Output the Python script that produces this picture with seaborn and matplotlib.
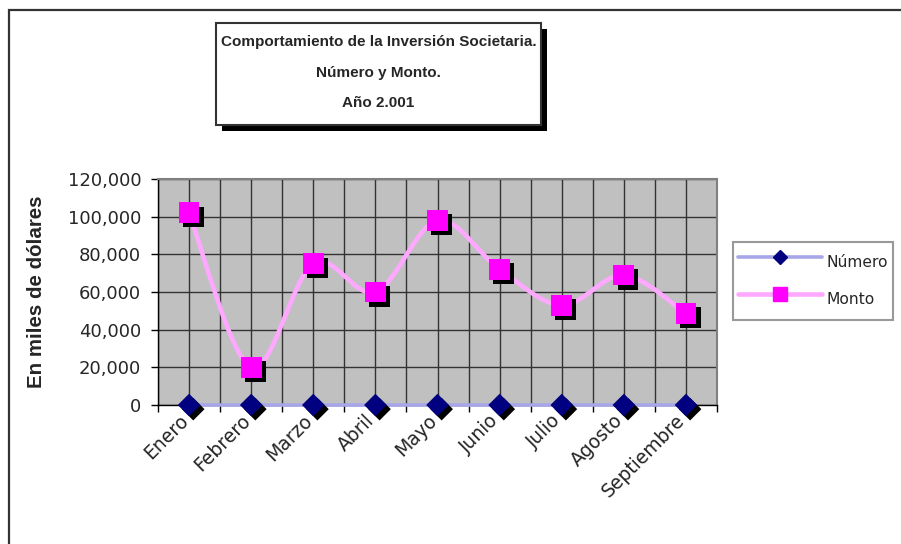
import numpy as np
import pandas as pd
import matplotlib
matplotlib.use("Agg")
import matplotlib.pyplot as plt
import matplotlib.patheffects as pe
from matplotlib.patches import Rectangle, PathPatch
from matplotlib.path import Path
from matplotlib.lines import Line2D
from matplotlib.ticker import FuncFormatter
import seaborn as sns

# ---- data ----
meses = ["Enero", "Febrero", "Marzo", "Abril", "Mayo", "Junio", "Julio", "Agosto", "Septiembre"]
numero = [0, 0, 0, 0, 0, 0, 0, 0, 0]
monto = [102000, 20000, 75000, 60000, 98000, 72000, 53000, 69000, 48500]
y_ticks = [0, 20000, 40000, 60000, 80000, 100000, 120000]
title_lines = ["Comportamiento de la Inversión Societaria.", "Número y Monto.", "Año 2.001"]
y_label = "En miles de dólares"
series_names = ["Número", "Monto"]

sns.set_style("white")
plt.rcParams["font.family"] = ["Liberation Sans", "DejaVu Sans"]
TICKFONT = ["DejaVu Sans"]

W, H = 901, 544
fig = plt.figure(figsize=(W / 100, H / 100), dpi=100)
fig.patch.set_facecolor("white")


def fx(px):
    return px / W


def fy(py):
    return 1 - py / H


ax = fig.add_axes([fx(158), fy(405), (717 - 158) / W, (405 - 179) / H])
ax.set_facecolor("#C0C0C0")

df = pd.DataFrame({"pos": np.arange(len(meses)), "mes": meses,
                   "Número": numero, "Monto": monto})

NUM_LINE = "#A6A6E8"
MON_LINE = "#FFA8FF"
NUM_MK = "#000080"
MON_MK = "#FF00FF"

# Número line
sns.lineplot(data=df, x="pos", y="Número", ax=ax, color=NUM_LINE, lw=2.6,
             zorder=3, legend=False, clip_on=False)

# Monto smoothed line (Bezier through the data points)
xs = df["pos"].to_numpy(float)
ys = df["Monto"].to_numpy(float)
n = len(xs)
verts = [(xs[0], ys[0])]
codes = [Path.MOVETO]
for i in range(n - 1):
    im1 = max(i - 1, 0)
    ip2 = min(i + 2, n - 1)
    c1 = (xs[i] + (xs[i + 1] - xs[im1]) / 6, ys[i] + (ys[i + 1] - ys[im1]) / 6)
    c2 = (xs[i + 1] - (xs[ip2] - xs[i]) / 6, ys[i + 1] - (ys[ip2] - ys[i]) / 6)
    verts += [c1, c2, (xs[i + 1], ys[i + 1])]
    codes += [Path.CURVE4] * 3
ax.add_patch(PathPatch(Path(verts, codes), facecolor="none", edgecolor=MON_LINE,
                       lw=3.3, zorder=4, capstyle="round", joinstyle="round"))

shadow = [pe.SimplePatchShadow(offset=(3, -3), shadow_rgbFace="black", alpha=1.0), pe.Normal()]

sns.scatterplot(data=df, x="pos", y="Número", marker="D", s=11.5 ** 2, color=NUM_MK,
                linewidth=0, ax=ax, zorder=6, clip_on=False, legend=False)
ax.collections[-1].set_path_effects(shadow)
sns.scatterplot(data=df, x="pos", y="Monto", marker="s", s=15 ** 2, color=MON_MK,
                linewidth=0, ax=ax, zorder=7, clip_on=False, legend=False)
ax.collections[-1].set_path_effects(shadow)

# axes
ax.set_xlim(-0.5, len(meses) - 0.5)
ax.set_ylim(0, 120000)
ax.set_xlabel("")
ax.set_xticks(xs)
ax.set_xticklabels(meses, rotation=45, ha="right", va="baseline", rotation_mode="anchor",
                   fontsize=13.5, family=TICKFONT)
ax.set_xticks(np.arange(-0.5, len(meses), 1.0), minor=True)
ax.tick_params(axis="x", which="major", length=0, pad=12, bottom=True)
ax.tick_params(axis="x", which="minor", length=5, width=1, color="black",
               direction="out", bottom=True)
ax.set_yticks(y_ticks)
ax.yaxis.set_major_formatter(FuncFormatter(lambda v, p: f"{v:,.0f}"))
ax.tick_params(axis="y", length=5, width=1, color="black", direction="out",
               pad=7, left=True)
for t in ax.get_yticklabels():
    t.set_fontsize(13)
    t.set_family(TICKFONT)

ax.grid(True, which="both", axis="x", color="#333333", lw=1)
ax.grid(True, which="major", axis="y", color="#333333", lw=1)
ax.set_axisbelow(True)
for s in ["left", "bottom"]:
    ax.spines[s].set_color("black")
    ax.spines[s].set_linewidth(1)
for s in ["top", "right"]:
    ax.spines[s].set_color("#808080")
    ax.spines[s].set_linewidth(1.5)

ax.set_ylabel(y_label, fontsize=14.8, fontweight="bold")
ax.yaxis.set_label_coords((46 - 158) / (717 - 158), 0.5)

# legend
handles = [
    Line2D([], [], color=NUM_LINE, lw=2.6, marker="D", ms=7.5, mfc=NUM_MK, mec=NUM_MK),
    Line2D([], [], color=MON_LINE, lw=3.3, marker="s", ms=10, mfc=MON_MK, mec=MON_MK),
]
leg = ax.legend(handles, series_names, loc="upper left",
                bbox_to_anchor=(fx(733), fy(242)), bbox_transform=fig.transFigure,
                frameon=True, fancybox=False, edgecolor="#808080", facecolor="white",
                prop={"family": TICKFONT, "size": 11.2},
                handlelength=5.4, handleheight=2.65, handletextpad=0.32,
                labelspacing=0.45, borderpad=0.3, borderaxespad=0)
leg.get_frame().set_linewidth(1.5)

# title box with shadow
fig.add_artist(Rectangle((fx(222), fy(131)), (541 - 216) / W, (125 - 23) / H,
                         transform=fig.transFigure, facecolor="black", edgecolor="none",
                         zorder=1))
fig.add_artist(Rectangle((fx(216), fy(125)), (541 - 216) / W, (125 - 23) / H,
                         transform=fig.transFigure, facecolor="white", edgecolor="#333333",
                         lw=1.5, zorder=2))
fig.text(fx(378.5), fy(72.5), "\n".join(title_lines), ha="center", va="center",
         fontsize=11, fontweight="bold", linespacing=2.5, zorder=3)

# outer chart border
fig.add_artist(Rectangle((fx(9), fy(570)), (940 - 9) / W, (570 - 10) / H,
                         transform=fig.transFigure, facecolor="none", edgecolor="#333333",
                         lw=1.6, zorder=0))

fig.savefig("out.png", dpi=100)
